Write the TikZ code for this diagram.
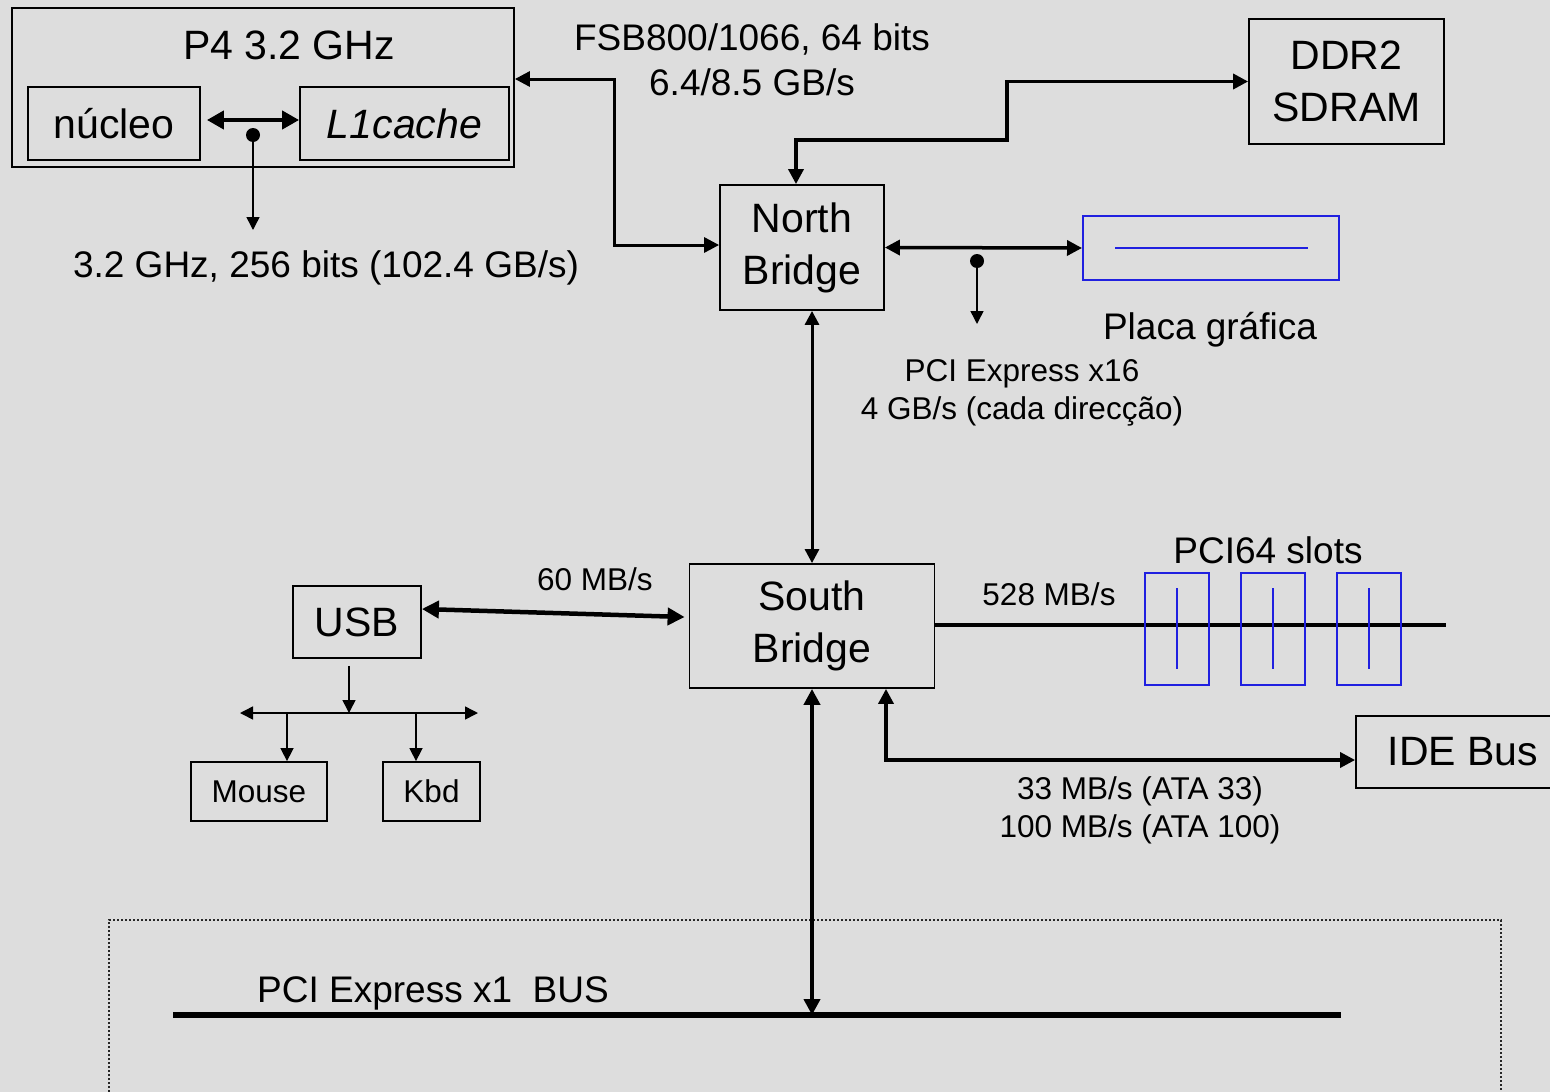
\documentclass[tikz,border=0pt]{standalone}
\usepackage{fontspec}
\setmainfont{Liberation Sans}
\usepackage{tikz}
\usetikzlibrary{arrows.meta,positioning}
\definecolor{slide}{RGB}{221,221,221}
\definecolor{slotblue}{RGB}{32,32,224}
\newcommand{\bigtxt}{\fontsize{41}{52}\selectfont}
\newcommand{\midtxt}{\fontsize{37}{45}\selectfont}
\newcommand{\smtxt}{\fontsize{31.5}{38}\selectfont}
\tikzset{
  unit/.style={draw=black, line width=1.8pt, inner sep=0pt, align=center, font=\bigtxt},
  dev/.style={unit, font=\smtxt},
  card/.style={draw=slotblue, line width=2pt, inner sep=0pt},
  lbl/.style={inner sep=0pt, align=center, font=\midtxt},
  slbl/.style={lbl, font=\smtxt},
  link/.style={{Triangle[length=15pt,width=15pt]}-{Triangle[length=15pt,width=15pt]}, line width=3.5pt},
  flow/.style={-{Triangle[length=15pt,width=15pt]}, line width=3.5pt},
  tap/.style={-{Triangle[length=13pt,width=13pt]}, line width=1.5pt},
  bus/.style={line width=3.5pt}
}

\begin{document}
\begin{tikzpicture}[x=1pt, y=-1pt]
  % slide background
  \useasboundingbox (0,0) rectangle (1550,1092);
  \fill[slide] (0,0) rectangle (1550,1092);

  % processor
  \node[unit, minimum width=502pt, minimum height=159pt] (cpu) at (263,87.5) {};
  \node[lbl, font=\bigtxt, anchor=base] (cpuname) at (289,59) {P4 3.2 GHz};
  \node[unit, minimum width=172pt, minimum height=73pt] (core) at (114,123.5) {núcleo};
  \node[unit, minimum width=209pt, minimum height=73pt] (lone) at (404.5,123.5) {\itshape L1cache};
  \draw[{Triangle[length=17pt,width=18pt]}-{Triangle[length=17pt,width=18pt]}, line width=4pt]
    ([xshift=6pt,yshift=3.5pt]core.east) -- ([yshift=3.5pt]lone.west);
  \coordinate (cdot) at (253,135);
  \coordinate (cend) at (253,230);
  \fill (cdot) circle (7pt);
  \draw[tap] (cdot) -- (cend);
  \node[lbl, anchor=base] (cbw) at (326,277) {3.2 GHz, 256 bits (102.4 GB/s)};

  % north bridge, memory, graphics
  \node[unit, minimum width=164pt, minimum height=125pt] (nb) at (802,247.5) {North\\Bridge};
  \node[unit, minimum width=195pt, minimum height=125pt] (ddr) at (1346.5,81.5) {DDR2\\SDRAM};
  \node[card, minimum width=256pt, minimum height=64pt] (gpu) at (1211,248) {};
  \draw[slotblue, line width=2pt] (1115,248) -- (1308,248);
  \node[lbl, anchor=base] (gpuname) at (1210,339) {Placa gráfica};

  \draw[link, line width=3pt] ([yshift=8.5pt]cpu.east) -- ++(100,0) |- ([yshift=2.5pt]nb.west);
  \node[lbl] (fsb) at (752,60) {FSB800/1066, 64 bits\\6.4/8.5 GB/s};
  \draw[link] (ddr.west) -| (1007,140) -| ([xshift=-6pt]nb.north);
  \draw[link] (nb.east) -- (gpu.west);
  \coordinate (gdot) at (977,261);
  \coordinate (gend) at (977,324);
  \fill (gdot) circle (7pt);
  \draw[tap] (gdot) -- (gend);
  \node[slbl] (pcie) at (1022,392.5) {PCI Express x16\\4 GB/s (cada direcção)};

  % south bridge
  \node[unit, minimum width=245pt, minimum height=124pt] (sb) at (812,626) {South\\Bridge};
  \draw[{Triangle[length=14pt,width=14pt]}-{Triangle[length=14pt,width=14pt]}, line width=3pt]
    ([xshift=10pt]nb.south) -- (sb.north);

  % usb
  \node[unit, minimum width=128pt, minimum height=72pt] (usb) at (357,622) {USB};
  \node[dev, minimum width=136pt, minimum height=59pt] (mouse) at (259,791.5) {Mouse};
  \node[dev, minimum width=97pt, minimum height=59pt] (kbd) at (431.5,791.5) {Kbd};
  \draw[{Triangle[length=17pt,width=17pt]}-{Triangle[length=17pt,width=17pt]}, line width=4.5pt]
    ([yshift=13pt]usb.east) -- ([yshift=9pt,xshift=-4pt]sb.west);
  \node[slbl, anchor=base] (usbbw) at (595,590) {60 MB/s};
  \coordinate (ubus) at (349,713);
  \draw[tap] ([xshift=-8pt,yshift=-7pt]usb.south) -- (ubus);
  \coordinate (ubl) at (240,713);
  \coordinate (ubr) at (478,713);
  \draw[tap, {Triangle[length=13pt,width=13pt]}-{Triangle[length=13pt,width=13pt]}] (ubl) -- (ubr);
  \draw[tap] (287,713) -- ([xshift=28pt]mouse.north);
  \draw[tap] (416,713) -- ([xshift=-15.5pt]kbd.north);

  % pci64 slots
  \coordinate (pend) at (1446,625);
  \draw[bus] ([yshift=1pt]sb.east) -- (pend);
  \foreach \x [count=\i] in {1177,1273,1369}{
    \node[card, minimum width=64pt, minimum height=112pt] (slot\i) at (\x,629) {};
    \draw[slotblue, line width=2pt] (\x,588) -- (\x,669);
  }
  \node[lbl, anchor=base] (slotname) at (1268,563) {PCI64 slots};
  \node[slbl, anchor=base] (pcibw) at (1049,605) {528 MB/s};

  % ide
  \node[unit, minimum width=214pt, minimum height=72pt] (ide) at (1463,752) {IDE Bus};
  \draw[flow, {Triangle[length=15pt,width=15pt]}-{Triangle[length=15pt,width=15pt]}]
    ([xshift=74pt]sb.south) |- ([yshift=-8pt]ide.west);
  \node[slbl] (idebw) at (1140,810) {33 MB/s (ATA 33)\\100 MB/s (ATA 100)};

  % pci express x1 bus
  \draw[black!85, line width=1.8pt, dash pattern=on 2pt off 2pt] (109,1100) |- (1501,920) -- (1501,1100);
  \coordinate (xl) at (173,1015);
  \coordinate (xr) at (1341,1015);
  \coordinate (xtap) at (812,1015);
  \draw[line width=5.5pt] (xl) -- (xr);
  \draw[{Triangle[length=16pt,width=16pt]}-{Triangle[length=16pt,width=16pt]}, line width=4.5pt]
    (sb.south) -- (xtap);
  \node[lbl, anchor=base west] (xname) at (257,1002) {PCI Express x1\ \ BUS};
\end{tikzpicture}
\end{document}
